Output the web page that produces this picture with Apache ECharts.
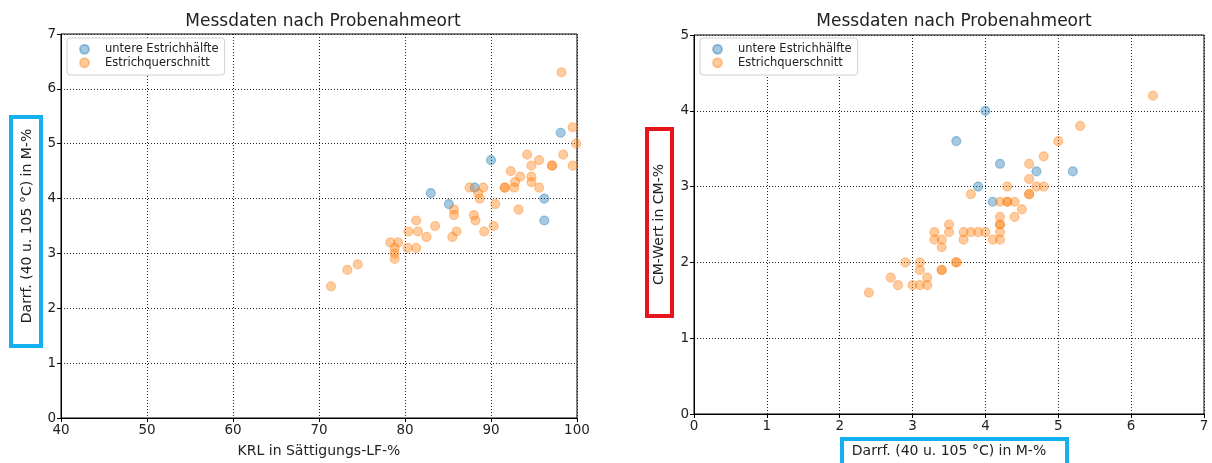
<!DOCTYPE html>
<html>
<head>
<meta charset="utf-8">
<script src="https://cdn.jsdelivr.net/npm/echarts@6/dist/echarts.min.js"></script>
<style>
html,body{margin:0;padding:0;background:#fff;}
#c{width:1212px;height:463px;}
</style>
</head>
<body>
<div id="c"></div>
<script>
// ---- Data (left chart: KRL vs Darrf.) ----
const seriesNames = ['untere Estrichhälfte', 'Estrichquerschnitt'];
const titleText = 'Messdaten nach Probenahmeort';

const krlUnten   = [83.0, 85.1, 88.1, 90.0, 96.2, 96.2, 98.1];
const darrfUntenL = [4.1, 3.9, 4.2, 4.7, 4.0, 3.6, 5.2];

const krlQuer = [98.2, 99.5, 99.9, 94.2, 98.4, 95.6, 94.7, 97.1, 97.1, 99.5,
                 92.3, 93.4, 94.7, 92.8, 94.7, 95.6, 91.6, 91.6, 92.7, 87.5,
                 89.1, 88.5, 88.7, 90.5, 93.2, 85.7, 85.7, 88.0, 88.2, 90.3,
                 89.2, 86.0, 85.5, 81.3, 83.5, 81.5, 80.4, 82.5, 78.3, 79.2,
                 78.8, 78.8, 78.8, 80.3, 81.3, 74.5, 73.3, 71.4];
const darrfQuerL = [6.3, 5.3, 5.0, 4.8, 4.8, 4.7, 4.6, 4.6, 4.6, 4.6,
                    4.5, 4.4, 4.4, 4.3, 4.3, 4.2, 4.2, 4.2, 4.2, 4.2,
                    4.2, 4.1, 4.0, 3.9, 3.8, 3.8, 3.7, 3.7, 3.6, 3.5,
                    3.4, 3.4, 3.3, 3.6, 3.5, 3.4, 3.4, 3.3, 3.2, 3.2,
                    3.1, 3.0, 2.9, 3.1, 3.1, 2.8, 2.7, 2.4];

// ---- Data (right chart: Darrf. vs CM) ----
const darrfUntenR = [4.0, 3.6, 4.2, 4.7, 5.2, 3.9, 4.1];
const cmUnten     = [4.0, 3.6, 3.3, 3.2, 3.2, 3.0, 2.8];

const darrfQuerR = [6.3, 5.3, 5.0, 4.6, 4.8, 4.6, 4.3, 4.7, 4.8, 4.6,
                    4.6, 3.8, 4.2, 4.3, 4.3, 4.4, 4.5, 4.4, 4.2, 4.2,
                    4.2, 4.2, 4.2, 4.1, 4.0, 3.9, 3.8, 3.7, 3.7, 3.5,
                    3.5, 3.3, 3.3, 3.4, 3.4, 3.6, 3.6, 3.4, 3.4, 2.9,
                    3.1, 3.1, 2.7, 2.8, 3.0, 3.1, 3.2, 3.2, 2.4];
const cmQuer     = [4.2, 3.8, 3.6, 3.3, 3.4, 3.1, 3.0, 3.0, 3.0, 2.9,
                    2.9, 2.9, 2.8, 2.8, 2.8, 2.8, 2.7, 2.6, 2.6, 2.5,
                    2.5, 2.4, 2.3, 2.3, 2.4, 2.4, 2.4, 2.4, 2.3, 2.5,
                    2.4, 2.4, 2.3, 2.3, 2.2, 2.0, 2.0, 1.9, 1.9, 2.0,
                    2.0, 1.9, 1.8, 1.7, 1.7, 1.7, 1.7, 1.8, 1.6];

const xTicksL = [40, 50, 60, 70, 80, 90, 100];
const yTicksL = [0, 1, 2, 3, 4, 5, 6, 7];
const xTicksR = [0, 1, 2, 3, 4, 5, 6, 7];
const yTicksR = [0, 1, 2, 3, 4, 5];

const axisNames = {
  xL: 'KRL in Sättigungs-LF-%',
  yL: 'Darrf. (40 u. 105 °C) in M-%',
  xR: 'Darrf. (40 u. 105 °C) in M-%',
  yR: 'CM-Wert in CM-%'
};

// ---- Build ----
const zip = (a, b) => a.map((v, i) => [v, b[i]]);
const FONT = 'DejaVu Sans';
const BLUE = 'rgba(31,119,180,0.5)';
const ORANGE = 'rgba(255,127,14,0.5)';

function axisCommon(ticks, name, gap, rotate) {
  return {
    type: 'value',
    min: ticks[0],
    max: ticks[ticks.length - 1],
    interval: ticks[1] - ticks[0],
    name: name,
    nameLocation: 'middle',
    nameGap: gap,
    nameRotate: rotate,
    nameTextStyle: { fontFamily: FONT, fontSize: 14, color: '#222' },
    axisLine: { show: true, onZero: false, lineStyle: { color: '#000', width: 1 } },
    axisTick: { show: true, length: 4, lineStyle: { color: '#000' } },
    axisLabel: { fontFamily: FONT, fontSize: 13.5, color: '#222', margin: 5 },
    splitLine: { show: true, lineStyle: { color: '#222', width: 1, type: [1, 2] } }
  };
}

const legendCommon = {
  orient: 'vertical',
  top: 38,
  itemWidth: 9,
  itemHeight: 9,
  itemGap: 1,
  icon: 'circle',
  backgroundColor: '#fff',
  borderColor: '#d0d0d0',
  borderWidth: 1,
  borderRadius: 3,
  padding: [5, 6, 6, 12],
  textStyle: { fontFamily: FONT, fontSize: 11.5, color: '#222', padding: [0, 0, 0, 11], lineHeight: 12.5 }
};

function scatter(name, data, color, xi) {
  return {
    type: 'scatter', name: name, xAxisIndex: xi, yAxisIndex: xi,
    data: data, symbolSize: 9,
    itemStyle: { color: color, borderColor: color, borderWidth: 1.2 }
  };
}

const option = {
  animation: false,
  backgroundColor: '#fff',
  title: [
    { text: titleText, left: 318, top: 8, textAlign: 'center',
      textStyle: { fontFamily: FONT, fontSize: 17, fontWeight: 'normal', color: '#222' } },
    { text: titleText, left: 949, top: 8, textAlign: 'center',
      textStyle: { fontFamily: FONT, fontSize: 17, fontWeight: 'normal', color: '#222' } }
  ],
  legend: [
    Object.assign({}, legendCommon, { left: 67, data: [
      { name: seriesNames[0], itemStyle: { color: BLUE } },
      { name: seriesNames[1], itemStyle: { color: ORANGE } }
    ], selectedMode: false }),
    Object.assign({}, legendCommon, { left: 700, data: [
      { name: seriesNames[0], itemStyle: { color: BLUE } },
      { name: seriesNames[1], itemStyle: { color: ORANGE } }
    ], selectedMode: false })
  ],
  grid: [
    { left: 61, right: 1212 - 577, top: 34, bottom: 463 - 418, show: true, borderColor: '#000', borderWidth: 1, backgroundColor: 'transparent' },
    { left: 694, right: 1212 - 1204, top: 35, bottom: 463 - 414, show: true, borderColor: '#000', borderWidth: 1, backgroundColor: 'transparent' }
  ],
  xAxis: [
    Object.assign(axisCommon(xTicksL, axisNames.xL, 26, 0), { gridIndex: 0 }),
    Object.assign(axisCommon(xTicksR, axisNames.xR, 30, 0), { gridIndex: 1 })
  ],
  yAxis: [
    Object.assign(axisCommon(yTicksL, axisNames.yL, 27, 90), { gridIndex: 0 }),
    Object.assign(axisCommon(yTicksR, axisNames.yR, 28, 90), { gridIndex: 1 })
  ],
  series: [
    scatter(seriesNames[0], zip(krlUnten, darrfUntenL), BLUE, 0),
    scatter(seriesNames[1], zip(krlQuer, darrfQuerL), ORANGE, 0),
    scatter(seriesNames[0], zip(darrfUntenR, cmUnten), BLUE, 1),
    scatter(seriesNames[1], zip(darrfQuerR, cmQuer), ORANGE, 1)
  ],
  graphic: [
    { type: 'rect', shape: { x: 11, y: 117, width: 30, height: 229 },
      style: { fill: 'none', stroke: '#12b0ee', lineWidth: 4 }, z: 100 },
    { type: 'rect', shape: { x: 647, y: 129, width: 25, height: 187 },
      style: { fill: 'none', stroke: '#e8141c', lineWidth: 4 }, z: 100 },
    { type: 'rect', shape: { x: 842, y: 439, width: 225, height: 30 },
      style: { fill: 'none', stroke: '#12b0ee', lineWidth: 4 }, z: 100 }
  ]
};

const chart = echarts.init(document.getElementById('c'), null, { renderer: 'canvas' });
chart.setOption(option);
</script>
</body>
</html>
